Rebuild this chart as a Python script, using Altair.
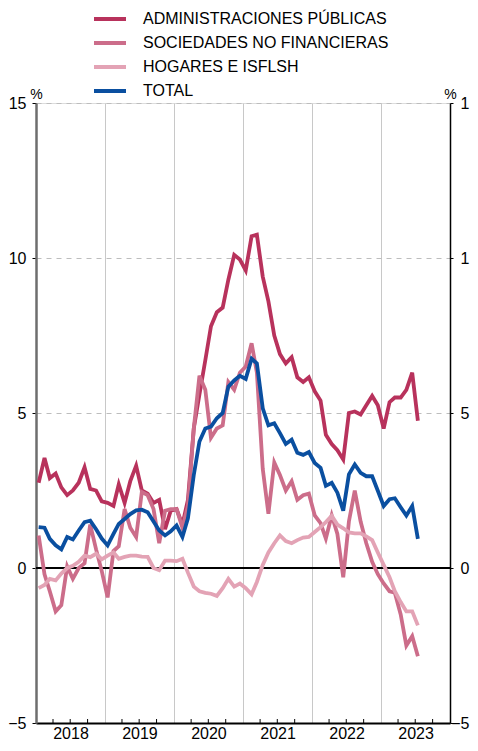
import altair as alt
import pandas as pd

SERIES = ["ADMINISTRACIONES PÚBLICAS", "SOCIEDADES NO FINANCIERAS", "HOGARES E ISFLSH", "TOTAL"]
COLORS = ["#B8325C", "#CC6D8A", "#E3A3B5", "#0A4FA0"]

aapp = [2.75, 3.55, 2.9, 3.05, 2.6, 2.35, 2.5, 2.75, 3.25, 2.55, 2.5, 2.15,
        2.1, 2.0, 2.7, 2.1, 2.8, 3.3, 2.5, 2.4, 2.1, 2.2, 1.25, 1.85,
        1.9, 1.4, 2.2, 4.5, 5.6, 6.7, 7.8, 8.25, 8.4, 9.3, 10.1, 9.95,
        9.6, 10.7, 10.75, 9.4, 8.6, 7.5, 6.9, 6.6, 6.8, 6.15, 6.0, 6.15,
        5.7, 5.4, 4.3, 4.0, 3.8, 3.5, 5.0, 5.05, 4.95, 5.25, 5.55, 5.25,
        4.5, 5.35, 5.5, 5.5, 5.75, 6.3, 4.75]
soc = [1.05, -0.2, -0.75, -1.4, -1.2, 0.05, -0.35, 0.0, 0.15, 1.4, 0.6, -0.1,
       -0.95, 0.55, 0.7, 1.9, 1.3, 1.0, 2.45, 2.35, 1.9, 0.8, 1.85, 1.9,
       1.9, 1.3, 2.0, 4.5, 6.2, 5.75, 4.2, 4.5, 4.6, 6.0, 5.75, 6.3,
       6.5, 7.25, 6.3, 3.2, 1.75, 3.4, 3.0, 2.5, 2.8, 2.2, 2.35, 2.4,
       1.7, 1.45, 0.95, 1.7, 1.1, -0.3, 1.5, 2.5, 1.5, 0.8, 0.2, -0.2,
       -0.5, -0.75, -0.8, -1.5, -2.5, -2.2, -2.85]
hog = [-0.65, -0.55, -0.35, -0.4, -0.18, 0.0, 0.07, 0.2, 0.4, 0.35, 0.46, 0.28,
       0.4, 0.5, 0.3, 0.36, 0.4, 0.4, 0.37, 0.36, 0.0, -0.07, 0.24, 0.24,
       0.22, 0.3, -0.15, -0.6, -0.75, -0.8, -0.83, -0.9, -0.65, -0.35, -0.6, -0.5,
       -0.65, -0.85, -0.45, 0.1, 0.5, 0.8, 1.05, 0.87, 0.8, 0.9, 0.98, 1.0,
       1.16, 1.32, 1.48, 1.68, 1.4, 1.28, 1.15, 1.12, 1.12, 1.02, 0.9, 0.5,
       0.1, -0.3, -0.75, -1.1, -1.4, -1.4, -1.85]
total = [1.32, 1.3, 0.94, 0.73, 0.6, 1.0, 0.92, 1.21, 1.48, 1.53, 1.25, 0.95,
         0.73, 1.1, 1.42, 1.58, 1.74, 1.86, 1.88, 1.8, 1.5, 1.21, 1.05, 1.18,
         1.37, 1.0, 1.6, 3.0, 4.08, 4.5, 4.56, 4.83, 5.0, 5.85, 6.05, 6.2,
         6.1, 6.75, 6.6, 5.15, 4.6, 4.67, 4.35, 4.0, 4.14, 3.72, 3.65, 3.74,
         3.39, 3.23, 2.65, 2.75, 2.43, 1.85, 3.02, 3.34, 3.07, 2.96, 2.96, 2.49,
         2.0, 2.22, 2.25, 1.96, 1.69, 2.0, 0.94]

YEARS = [2018, 2019, 2020, 2021, 2022, 2023]
Y_TICKS = [-5, 0, 5, 10, 15]

dates = pd.date_range("2018-01-01", periods=len(total), freq="MS") + pd.Timedelta(days=14)
rows = []
for name, vals in zip(SERIES, [aapp, soc, hog, total]):
    for d, v in zip(dates, vals):
        rows.append({"date": d, "serie": name, "value": v})
df = pd.DataFrame(rows)

qdf = pd.DataFrame({"date": [pd.Timestamp(y, m, 1) for y in YEARS for m in (4, 7, 10)]})

W, H = 414, 620
FONT = "Liberation Sans"

xscale = alt.Scale(domain=[alt.DateTime(year=2018, month=1, date=1),
                           alt.DateTime(year=2024, month=1, date=1)])
xaxis = alt.Axis(values=[alt.DateTime(year=y, month=1, date=1) for y in YEARS],
                 format="%Y", labelOffset=W / 12, labelFlush=False, labelOverlap=False,
                 ticks=False, tickSize=0, labelPadding=2,
                 grid=True, gridColor="#c8c8c8", gridWidth=1,
                 domainColor="#000000", domainWidth=2,
                 labelFont=FONT, labelFontSize=16, labelColor="#000000", title=None)
X = alt.X("date:T", scale=xscale, axis=xaxis)

yscale = alt.Scale(domain=[-5, 15], nice=False, zero=False)
yaxis_left = alt.Axis(values=Y_TICKS, grid=True, gridDash=[5, 5], gridColor="#bdbdbd", gridWidth=1,
                      domainColor="#6e6e6e", domainWidth=2.5,
                      tickColor="#000000", tickSize=4, tickWidth=1, labelPadding=6,
                      labelFont=FONT, labelFontSize=16, labelColor="#000000",
                      title="%", titleAngle=0, titleX=0, titleY=-5, titleAlign="center",
                      titleBaseline="alphabetic", titleFont=FONT, titleFontSize=14,
                      titleFontWeight="normal", titleColor="#000000")
yaxis_right = alt.Axis(orient="right", values=Y_TICKS, grid=False,
                       domainColor="#000000", domainWidth=1.5,
                       tickColor="#000000", tickSize=3, tickWidth=1,
                       labelAlign="right", labelPadding=16,
                       labelExpr="datum.value >= 10 ? '1' : datum.label",
                       labelFont=FONT, labelFontSize=16, labelColor="#000000",
                       title="%", titleAngle=0, titleX=0, titleY=-5, titleAlign="center",
                       titleBaseline="alphabetic", titleFont=FONT, titleFontSize=14,
                       titleFontWeight="normal", titleColor="#000000")

color = alt.Color("serie:N", sort=SERIES,
                  scale=alt.Scale(domain=SERIES, range=COLORS),
                  legend=alt.Legend(title=None, orient="none", legendX=64, legendY=-94,
                                    symbolType="M-2,0H2", symbolSize=256, symbolStrokeWidth=4,
                                    labelFont=FONT, labelFontSize=16, labelColor="#000000",
                                    labelOffset=23, rowPadding=6, padding=0,
                                    direction="vertical", labelLimit=400))

base = alt.Chart(df)
zero = base.mark_rule(color="#000000", strokeWidth=1.3).encode(y=alt.datum(0, scale=yscale, axis=yaxis_left))
line_layers = [
    base.transform_filter(alt.datum.serie == s).mark_line(strokeWidth=3.8, strokeJoin="miter").encode(
        x=X, y=alt.Y("value:Q", scale=yscale, axis=yaxis_left), color=color)
    for s in SERIES
]
qticks = alt.Chart(qdf).mark_rule(color="#000000", strokeWidth=1).encode(
    x=X, y=alt.value(H), y2=alt.value(H - 4))

inner = alt.layer(zero, *line_layers, qticks)
right = base.transform_filter(alt.datum.serie == "TOTAL").mark_line(opacity=0).encode(
    x=X, y=alt.Y("value:Q", scale=yscale, axis=yaxis_right))

# svg: 28 + 414 + 20 = 462 wide, 95 + 620 + 20 = 735 tall (fits the 478x751 page with 8px margins)
chart = alt.layer(inner, right).resolve_scale(y="independent").properties(
    width=W, height=H,
    autosize=alt.AutoSizeParams(type="none"),
    padding={"left": 28, "top": 95, "right": 20, "bottom": 20},
).configure_view(stroke=None).configure(background="white")

chart.save("out.html", embed_options={"renderer": "svg", "actions": False})
